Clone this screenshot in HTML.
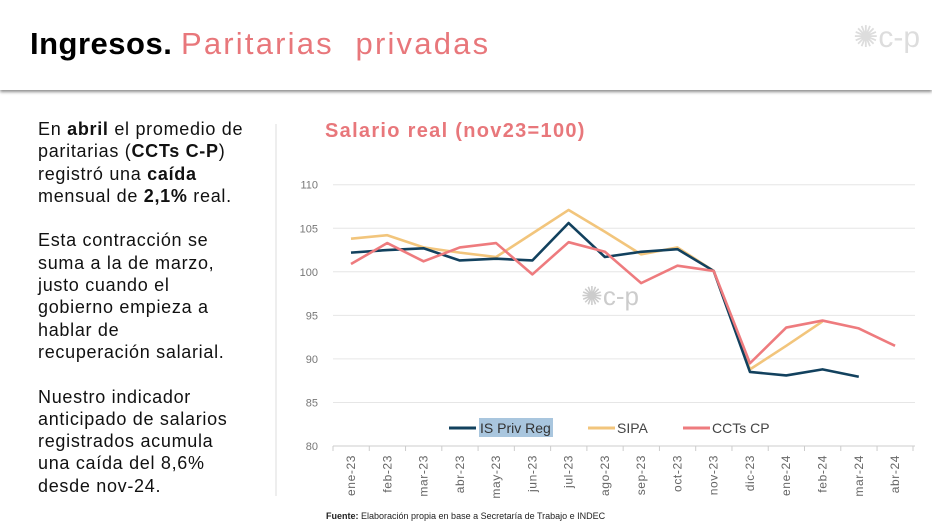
<!DOCTYPE html>
<html><head><meta charset="utf-8"><style>
body{margin:0;width:932px;height:529px;background:#fff;overflow:hidden;position:relative;font-family:"Liberation Sans",sans-serif}
.hdr{position:absolute;left:0;top:0;width:932px;height:90px;background:#fff;box-shadow:0 2px 3px rgba(0,0,0,.45)}
.t{position:absolute;left:30px;top:26px;font-size:31px}
.t b{color:#000;letter-spacing:0.5px}.t span{color:#e8777b;letter-spacing:2.2px}
.logo{position:absolute;right:12px;top:20px;color:#ddd;font-size:30px}
.left{position:absolute;left:38px;top:118px;font-size:18px;line-height:22.3px;color:#111;letter-spacing:0.7px}
.div{position:absolute;left:275px;top:124px;width:2px;height:372px;background:#eee}
.ct{position:absolute;left:325px;top:120px;color:#e8777b;font-weight:bold;font-size:20px;letter-spacing:1.3px}
.src{position:absolute;left:326px;top:511px;font-size:9px;color:#222}
</style></head><body>
<div class="hdr"><div class="t"><b>Ingresos.</b> <span>Paritarias&nbsp; privadas</span></div><div class="logo">✺c-p</div></div>
<div class="left">En <b>abril</b> el promedio de<br>paritarias (<b>CCTs C-P</b>)<br>registró una <b>caída</b><br>mensual de <b>2,1%</b> real.<br><br>Esta contracción se<br>suma a la de marzo,<br>justo cuando el<br>gobierno empieza a<br>hablar de<br>recuperación salarial.<br><br>Nuestro indicador<br>anticipado de salarios<br>registrados acumula<br>una caída del 8,6%<br>desde nov-24.</div>
<div class="div"></div>
<div class="ct">Salario real (nov23=100)</div>
<svg id="s" width="932" height="529" style="position:absolute;left:0;top:0" font-family="Liberation Sans, sans-serif"></svg>
<div class="src"><b>Fuente:</b> Elaboración propia en base a Secretaría de Trabajo e INDEC</div>
<script>
var s=document.getElementById('s'),h='';
function Y(v){return 184.7+(110-v)*8.71}function X(i){return 351+36.27*i}
for(var v=80;v<=110;v+=5){var y=Y(v);if(v>80)h+='<line x1="333" x2="915" y1="'+y+'" y2="'+y+'" stroke="#e6e6e6" stroke-width="1"/>';h+='<text x="318" y="'+(y+4)+'" text-anchor="end" font-size="11" fill="#777">'+v+'</text>'}
h+='<line x1="333" x2="915" y1="446" y2="446" stroke="#ccc"/>';
var m=['ene-23','feb-23','mar-23','abr-23','may-23','jun-23','jul-23','ago-23','sep-23','oct-23','nov-23','dic-23','ene-24','feb-24','mar-24','abr-24'];
for(var i=0;i<16;i++){var x=X(i);h+='<line x1="'+(x-18)+'" x2="'+(x-18)+'" y1="446" y2="451" stroke="#ccc"/>';h+='<text transform="translate('+(x+4)+',455) rotate(-90)" text-anchor="end" font-size="12" letter-spacing="0.6" fill="#666">'+m[i]+'</text>'}
h+='<line x1="913" x2="913" y1="446" y2="451" stroke="#ccc"/>';
h+='<text x="610" y="305" text-anchor="middle" font-size="26" fill="#ccc">✺c-p</text>';
function L(d,c){var p=d.map(function(v,i){return X(i)+','+Y(v)}).join(' ');h+='<polyline points="'+p+'" fill="none" stroke="'+c+'" stroke-width="2.6" stroke-linejoin="round"/>'}
L([103.8,104.2,102.8,102.2,101.7,104.4,107.1,104.6,102.0,102.8,100.1,88.8,91.5,94.3],'#f2c57c');
L([102.2,102.5,102.7,101.3,101.5,101.3,105.6,101.7,102.3,102.6,100.1,88.5,88.1,88.8,87.95],'#12415e');
L([100.9,103.3,101.2,102.8,103.3,99.7,103.4,102.3,98.7,100.7,100.1,89.5,93.6,94.4,93.5,91.5],'#ee7b7e');
h+='<line x1="449" x2="476" y1="428" y2="428" stroke="#12415e" stroke-width="3"/><rect x="479" y="418" width="74" height="19" fill="#a9c6de"/><text x="480" y="433" font-size="14" fill="#333">IS Priv Reg</text>';
h+='<line x1="588" x2="615" y1="428" y2="428" stroke="#f2c57c" stroke-width="3"/><text x="617" y="433" font-size="14" fill="#444">SIPA</text>';
h+='<line x1="683" x2="710" y1="428" y2="428" stroke="#ee7b7e" stroke-width="3"/><text x="712" y="433" font-size="14" fill="#444">CCTs CP</text>';
s.innerHTML=h;
</script>
</body></html>
